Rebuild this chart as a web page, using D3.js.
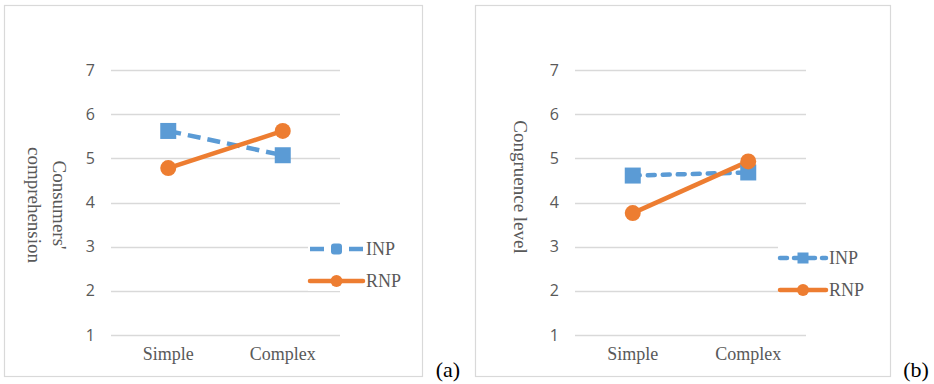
<!DOCTYPE html>
<html>
<head>
<meta charset="utf-8">
<script src="https://cdn.jsdelivr.net/npm/d3@7"></script>
<style>
body{margin:0;background:#fff;}
svg{display:block;}
</style>
</head>
<body>
<div id="chart"></div>
<script>
var categories=["Simple","Complex"];
var yTicks=[1,2,3,4,5,6,7];
var seriesNames=["INP","RNP"];
var inpA=[5.62,5.07];
var rnpA=[4.78,5.62];
var inpB=[4.61,4.68];
var rnpB=[3.76,4.93];

var blue="#5b9bd5",orange="#ed7d31",grid="#d9d9d9",txt="#595959";

var svg=d3.select("#chart").append("svg").attr("width",934).attr("height",384);

function drawPanel(p) {
    var g=svg.append("g");
    g.append("rect")
        .attr("x",p.box[0]+0.5).attr("y",p.box[1]+0.5)
        .attr("width",p.box[2]).attr("height",p.box[3])
        .attr("fill","#fff").attr("stroke",grid).attr("stroke-width",1.2);

    var x=d3.scaleBand().domain(categories).range([p.x0,p.x1]);
    var y=d3.scaleLinear().domain([1,7]).range([335,70]);

    // gridlines
    g.selectAll("line.grid").data(yTicks).enter().append("line")
        .attr("x1",p.x0).attr("x2",p.x1)
        .attr("y1",function(d){return Math.round(y(d))+0.5;})
        .attr("y2",function(d){return Math.round(y(d))+0.5;})
        .attr("stroke",grid).attr("stroke-width",1.3);

    var yAxis=d3.axisLeft(y).tickValues(yTicks).tickSize(0).tickPadding(16).tickFormat(d3.format("d"));
    var ya=g.append("g").attr("transform","translate("+p.x0+",0)").call(yAxis);
    ya.select(".domain").remove();
    ya.selectAll("text").attr("fill",txt).style("font-family","'Open Sans',sans-serif").style("font-size","16px");

    var xAxis=d3.axisBottom(x).tickSize(0).tickPadding(12);
    var xa=g.append("g").attr("transform","translate(0,335)").call(xAxis);
    xa.select(".domain").remove();
    xa.selectAll("text").attr("fill",txt).style("font-family","'Liberation Serif',serif").style("font-size","18px");

    // axis title
    var t=g.append("text")
        .attr("transform","translate("+p.titleX+","+p.titleY+") rotate(90)")
        .attr("text-anchor","middle").attr("fill",txt)
        .style("font-family","'Liberation Serif',serif").style("font-size","19px");
    p.title.forEach(function(s,i){
        t.append("tspan").attr("x",0).attr("dy",i==0?0:"1.3em").text(s);
    });

    var line=d3.line()
        .x(function(d,i){return x(categories[i])+x.bandwidth()/2;})
        .y(function(d){return y(d);});

    // INP
    g.append("path").datum(p.inp).attr("d",line).attr("fill","none")
        .attr("stroke",blue).attr("stroke-width",4.5)
        .attr("stroke-dasharray",p.dash).attr("stroke-linecap",p.cap);
    // RNP
    g.append("path").datum(p.rnp).attr("d",line).attr("fill","none")
        .attr("stroke",orange).attr("stroke-width",4.5);

    g.selectAll("rect.sq").data(p.inp).enter().append("rect")
        .attr("x",function(d,i){return x(categories[i])+x.bandwidth()/2-8;})
        .attr("y",function(d){return y(d)-8;})
        .attr("width",16).attr("height",16).attr("fill",blue);
    g.selectAll("circle.dot").data(p.rnp).enter().append("circle")
        .attr("cx",function(d,i){return x(categories[i])+x.bandwidth()/2;})
        .attr("cy",function(d){return y(d);})
        .attr("r",8).attr("fill",orange);

    // legend
    var lg=g.append("g").attr("transform","translate("+p.leg[0]+","+p.leg[1]+")");
    lg.append("rect").attr("x",-2).attr("y",-12).attr("width",80).attr("height",p.legGap+22).attr("fill","#fff");
    seriesNames.forEach(function(s,i){
        var yy=i*p.legGap;
        var col=i==0?blue:orange;
        lg.append("line").attr("x1",0).attr("x2",p.legW).attr("y1",yy).attr("y2",yy)
            .attr("stroke",col).attr("stroke-width",4.5)
            .attr("stroke-dasharray",i==0?p.legDash:null)
            .attr("stroke-linecap",i==0?p.cap:"round");
        if(i==0){
            lg.append("rect").attr("x",p.legW/2-5.5).attr("y",yy-5.5).attr("width",11).attr("height",11)
                .attr("rx",p.legRx).attr("fill",col);
        } else {
            lg.append("circle").attr("cx",p.legW/2).attr("cy",yy).attr("r",6).attr("fill",col);
        }
        lg.append("text").attr("x",p.legW+3).attr("y",yy).attr("dy","0.35em").attr("fill",txt)
            .style("font-family","'Liberation Serif',serif").style("font-size","18px").text(s);
    });

    svg.append("text").attr("x",p.lab[0]).attr("y",p.lab[1]).attr("text-anchor","middle")
        .attr("fill","#000").style("font-family","'Liberation Serif',serif").style("font-size","22px")
        .text(p.label);
}

drawPanel({box:[4,5,418,371],x0:111,x1:340,inp:inpA,rnp:rnpA,title:["Consumers'","comprehension"],
    titleX:53,titleY:205,dash:"13,7",cap:"butt",leg:[310,249],legGap:32,legW:53,legDash:"14,25",legRx:3,
    lab:[448,377],label:"(a)"});
drawPanel({box:[475,5,415,371],x0:575,x1:806,inp:inpB,rnp:rnpB,title:["Congruence level"],
    titleX:514,titleY:187,dash:"7,8",cap:"round",leg:[780,258],legGap:32,legW:46,legDash:"7,7",legRx:0,
    lab:[916,377],label:"(b)"});
</script>
</body>
</html>
